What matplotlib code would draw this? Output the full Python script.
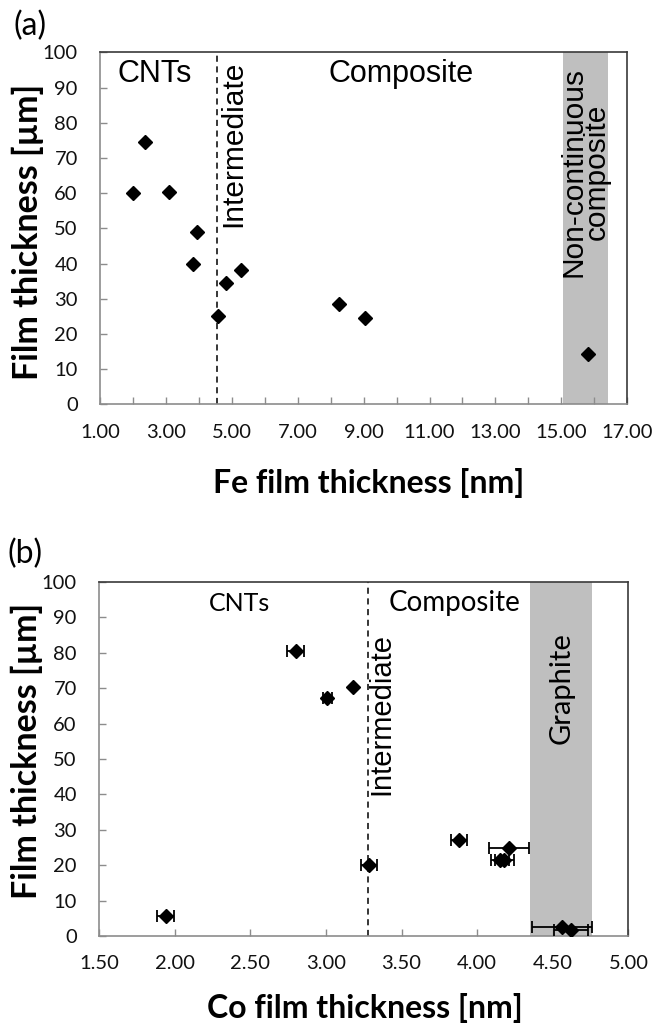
import numpy as np
import matplotlib as mpl
import matplotlib.pyplot as plt

mpl.rcParams.update({'font.family': ['Lato', 'DejaVu Sans']})

# panel (a): Fe catalyst
fe_x = [2.01, 2.35, 3.10, 3.95, 3.83, 4.58, 4.83, 5.27, 8.26, 9.05, 15.82]
fe_y = [60.2, 74.5, 60.5, 49.0, 40.0, 25.2, 34.6, 38.2, 28.6, 24.5, 14.4]
fe_xticks = list(range(1, 18))
fe_xticklabels = ["%.2f" % v if v % 2 == 1 else "" for v in fe_xticks]
fe_boundary = 4.54
fe_band = (15.05, 16.43)

# panel (b): Co catalyst
co_x = [1.94, 2.80, 3.01, 3.18, 3.285, 3.88, 4.21, 4.15, 4.18, 4.56, 4.62]
co_y = [5.6, 80.4, 67.2, 70.2, 20.0, 27.0, 25.0, 21.5, 21.5, 2.6, 1.6]
co_xerr = [0.055, 0.055, 0.03, 0.0, 0.05, 0.055, 0.13, 0.06, 0.06, 0.20, 0.11]
co_xticks = [1.5, 2.0, 2.5, 3.0, 3.5, 4.0, 4.5, 5.0]
co_xticklabels = ["%.2f" % v for v in co_xticks]
co_boundary = 3.278
co_band = (4.35, 4.76)

yticks = list(range(0, 101, 10))

ARIAL = 'Liberation Sans'


def style_axes(ax, ylab_y):
    for side in ['left', 'bottom']:
        ax.spines[side].set_color('#8c8c8c')
        ax.spines[side].set_linewidth(1.2)
    for side in ['top', 'right']:
        ax.spines[side].set_color('#3a3a3a')
        ax.spines[side].set_linewidth(1.2)
    ax.tick_params(direction='in', length=5, width=1, color='#8c8c8c',
                   labelsize=14.5, labelcolor='#111111')
    ax.tick_params(axis='x', pad=14)
    ax.tick_params(axis='y', pad=16)
    ax.set_ylim(0, 100)
    ax.set_yticks(yticks)
    ax.set_ylabel("Film thickness [µm]", fontsize=24.5, fontweight='bold')
    ax.yaxis.set_label_coords(-0.106, ylab_y)


fig = plt.figure(figsize=(6.54, 10.25), dpi=100)
ax1 = fig.add_axes([0.153, 0.6054, 0.806, 0.3434])
ax2 = fig.add_axes([0.1514, 0.0868, 0.8096, 0.3454])

# (a)
ax1.axvspan(fe_band[0], fe_band[1], color='#bfbfbf', lw=0, zorder=0)
ax1.axvline(fe_boundary, color='black', ls=(0, (4, 3)), lw=1.1, zorder=1)
ax1.plot(fe_x, fe_y, 'D', color='black', markersize=7.5, zorder=3)
ax1.set_xlim(1, 17)
ax1.set_xticks(fe_xticks)
ax1.set_xticklabels(fe_xticklabels)
style_axes(ax1, 0.49)
ax1.set_xlabel("Fe film thickness [nm]", fontsize=23, fontweight='bold')
ax1.xaxis.set_label_coords(0.51, -0.18)
ax1.text(2.67, 94, "CNTs", fontsize=22, family=ARIAL, ha='center', va='center')
ax1.text(10.14, 94, "Composite", fontsize=22, family=ARIAL, ha='center', va='center')
ax1.text(5.04, 97.7, "Intermediate", fontsize=21.5, family=ARIAL, rotation=90,
         ha='center', va='top')
ax1.text(15.72, 95.8, "Non-continuous\ncomposite", fontsize=21.5, family=ARIAL,
         rotation=90, ha='center', va='top', multialignment='center', linespacing=0.8)

# (b)
ax2.axvspan(co_band[0], co_band[1], color='#bfbfbf', lw=0, zorder=0)
ax2.axvline(co_boundary, color='black', ls=(0, (4, 3)), lw=1.1, zorder=1)
ax2.errorbar(co_x, co_y, xerr=co_xerr, fmt='D', color='black', markersize=7.5,
             ecolor='black', elinewidth=1.3, capsize=4, capthick=1.3, zorder=3)
ax2.set_xlim(1.5, 5.0)
ax2.set_xticks(co_xticks)
ax2.set_xticklabels(co_xticklabels)
style_axes(ax2, 0.523)
ax2.set_xlabel("Co film thickness [nm]", fontsize=23, fontweight='bold')
ax2.xaxis.set_label_coords(0.502, -0.16)
ax2.text(2.43, 93.8, "CNTs", fontsize=18, ha='center', va='center')
ax2.text(3.85, 94, "Composite", fontsize=20, ha='center', va='center')
ax2.text(3.365, 85.6, "Intermediate", fontsize=21, family=ARIAL, rotation=90,
         ha='center', va='top')
ax2.text(4.555, 85.9, "Graphite", fontsize=21, rotation=90, ha='center', va='top')

fig.text(0.02, 0.99, "(a)", fontsize=23, ha='left', va='top')
fig.text(0.012, 0.474, "(b)", fontsize=23, ha='left', va='top')

fig.savefig('out.png', dpi=100)
